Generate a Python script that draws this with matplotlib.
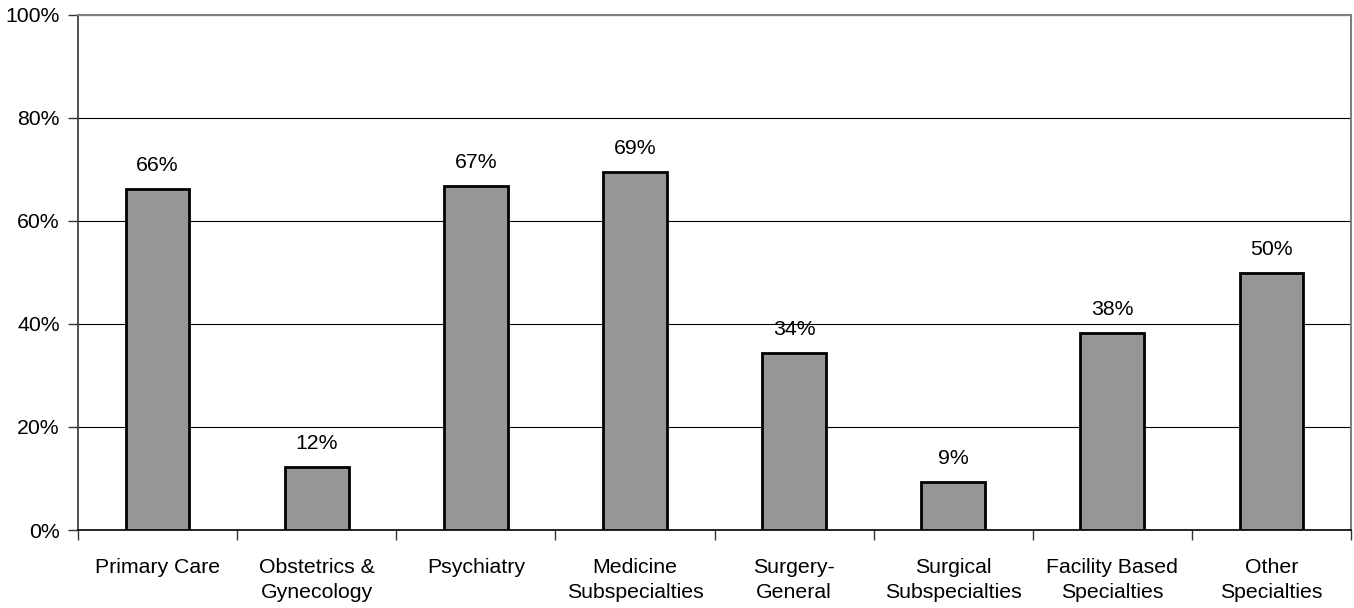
import matplotlib
matplotlib.use("Agg")
import matplotlib.pyplot as plt
from matplotlib.ticker import FixedLocator, FuncFormatter

plt.rcParams['font.family'] = ['Liberation Sans', 'DejaVu Sans']

categories = ["Primary Care", "Obstetrics &\nGynecology", "Psychiatry",
              "Medicine\nSubspecialties", "Surgery-\nGeneral", "Surgical\nSubspecialties",
              "Facility Based\nSpecialties", "Other\nSpecialties"]
values = [66.2, 12.2, 66.8, 69.4, 34.3, 9.3, 38.3, 49.9]
y_ticks = [0, 20, 40, 60, 80, 100]

fig = plt.figure(figsize=(13.54, 6.08), dpi=100)
ax = fig.add_axes([78 / 1354, 78 / 608, (1351 - 78) / 1354, (530 - 14.5) / 608])

x = list(range(len(categories)))
ax.set_axisbelow(True)
ax.yaxis.grid(True, color='black', linewidth=0.8)
bars = ax.bar(x, values, width=0.4, color='#969696', edgecolor='black', linewidth=2.0, zorder=3)

for xi, v in zip(x, values):
    ax.annotate(f"{round(v)}%", (xi, v), xytext=(0, 10), textcoords='offset points',
                ha='center', va='bottom', fontsize=15.3)

ax.set_xlim(-0.5, len(categories) - 0.5)
ax.set_ylim(0, 100)
ax.set_yticks(y_ticks)
ax.yaxis.set_major_formatter(FuncFormatter(lambda v, p: f"{int(v)}%"))

# category labels centred, tick marks on the boundaries
ax.set_xticks(x)
ax.set_xticklabels(categories, fontsize=15.3, linespacing=1.42)
ax.tick_params(axis='x', which='major', length=0, pad=20)
ax.xaxis.set_minor_locator(FixedLocator([i - 0.5 for i in range(len(categories) + 1)]))
ax.tick_params(axis='x', which='minor', length=7, width=1, color='#333333')
ax.tick_params(axis='y', length=7, width=1, color='#333333', labelsize=15.3, pad=6)

for side in ['top', 'right']:
    ax.spines[side].set_color('#808080')
    ax.spines[side].set_linewidth(1.5)
ax.spines['left'].set_color('#333333')
ax.spines['left'].set_linewidth(1.2)
ax.spines['bottom'].set_color('black')
ax.spines['bottom'].set_linewidth(1.2)

fig.savefig("out.png", dpi=100)
